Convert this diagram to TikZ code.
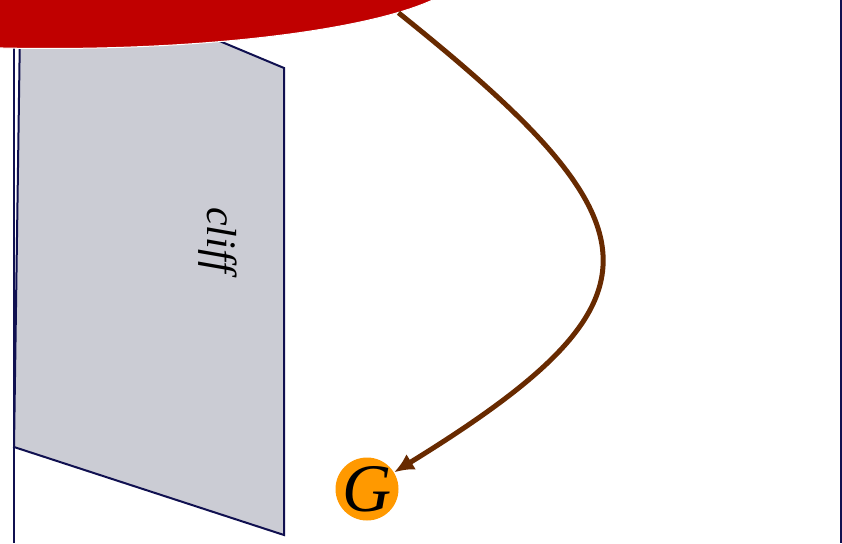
\documentclass[tikz,border=0pt]{standalone}
\usepackage{fontspec}
\setmainfont{Liberation Serif}
\usetikzlibrary{shapes.geometric,arrows.meta}
\definecolor{cliffgray}{RGB}{203,204,212}
\definecolor{edgenavy}{RGB}{16,16,80}
\definecolor{capred}{RGB}{192,0,0}
\definecolor{pathbrown}{RGB}{104,42,0}
\definecolor{goalorange}{RGB}{255,153,0}
\begin{document}
\begin{tikzpicture}[x=1pt,y=-1pt,
  edge/.style={draw=edgenavy,line width=2pt},
  capshape/.style={ellipse,fill=capred,draw=white,line width=1pt,
    minimum width=828pt,minimum height=157pt,inner sep=0pt},
  goal/.style={circle,fill=goalorange,minimum size=63pt,inner sep=-4pt,
    font=\itshape\fontsize{68}{68}\selectfont},
  label/.style={font=\itshape\fontsize{42}{42}\selectfont},
  route/.style={draw=pathbrown,line width=5pt,-{Latex[length=20pt,width=18pt]}}]
\useasboundingbox (0,0) rectangle (842,543);
\clip (0,0) rectangle (842,543);
\fill[white] (0,0) rectangle (842,543);
% side walls
\draw[edge] (14,0) -- (14,543);
\draw[edge] (840.5,0) -- (840.5,543);
% the cliff face
\draw[edge,fill=cliffgray] (21,-42) -- (284,68) -- (284,535) -- (14,447) -- cycle;
\node[label,rotate=-90] (cliff) at (218,240) {cliff};
% overhanging cap
\node[capshape] (cap) at (50,-30) {};
% goal and the route to it
\node[goal] (G) at (367,489) {\raisebox{-1pt}{G}};
\draw[route] (cap.-7.2) .. controls (665,226) and (674,300) .. (G);
\end{tikzpicture}
\end{document}
